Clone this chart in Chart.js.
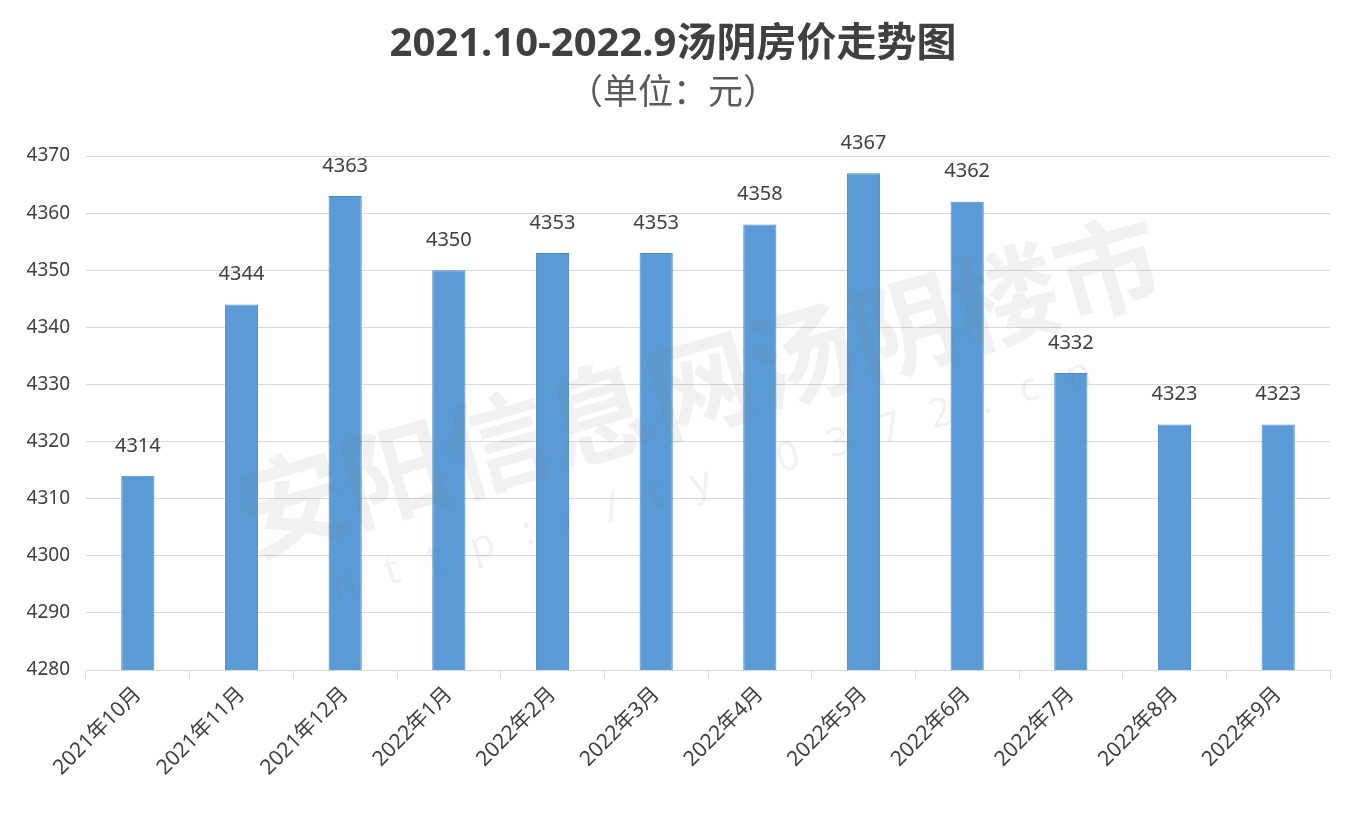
<!DOCTYPE html>
<html>
<head>
<meta charset="utf-8">
<script src="https://cdn.jsdelivr.net/npm/chart.js@4.4.0/dist/chart.umd.min.js"></script>
<style>
  html, body { margin: 0; padding: 0; background: #fff; }
  #wrap { width: 1360px; height: 818px; }
</style>
</head>
<body>
<div id="wrap"><canvas id="barChart"></canvas></div>
<script>
const months = ['2021年10月', '2021年11月', '2021年12月', '2022年1月', '2022年2月', '2022年3月',
                '2022年4月', '2022年5月', '2022年6月', '2022年7月', '2022年8月', '2022年9月'];
const prices = [4314, 4344, 4363, 4350, 4353, 4353, 4358, 4367, 4362, 4332, 4323, 4323];
const yMin = 4280;
const yMax = 4370;
const yStep = 10;

const FONT = '"Noto Sans", "Noto Sans CJK SC", sans-serif';

// value labels above each bar
const barLabels = {
    id: 'barLabels',
    afterDatasetsDraw(chart) {
        const ctx = chart.ctx;
        const meta = chart.getDatasetMeta(0);
        ctx.save();
        ctx.font = '20px ' + FONT;
        ctx.fillStyle = '#404040';
        ctx.textAlign = 'center';
        ctx.textBaseline = 'middle';
        meta.data.forEach((bar, i) => {
            ctx.fillText(prices[i], bar.x, bar.y - 30);
        });
        ctx.restore();
    }
};

// faint watermark of the source site
const watermark = {
    id: 'watermark',
    afterDraw(chart) {
        const ctx = chart.ctx;
        ctx.save();
        ctx.translate(700, 385);
        ctx.rotate(-16 * Math.PI / 180);
        ctx.fillStyle = 'rgba(120,120,120,0.10)';
        ctx.textAlign = 'center';
        ctx.textBaseline = 'middle';
        ctx.font = 'bold 106px "Noto Sans CJK SC"';
        ctx.fillText('安阳信息网汤阴楼市', 0, 0);
        ctx.font = '40px ' + FONT;
        ctx.letterSpacing = '30px';
        ctx.fillText('http://ty.0372.cn', 0, 95);
        ctx.restore();
    }
};

const ctx1 = document.getElementById('barChart').getContext('2d');
new Chart(ctx1, {
    type: 'bar',
    data: {
        labels: months,
        datasets: [{
            label: '房价',
            data: prices,
            backgroundColor: '#5b9bd5',
            borderColor: '#4a89c4',
            borderWidth: 1,
            barPercentage: 0.32,
            categoryPercentage: 1
        }]
    },
    options: {
        responsive: true,
        maintainAspectRatio: false,
        animation: false,
        layout: { padding: { left: 16, right: 30, top: 0, bottom: 0 } },
        plugins: {
            legend: { display: false },
            tooltip: { enabled: false },
            title: {
                display: true,
                text: '2021.10-2022.9汤阴房价走势图',
                color: '#404040',
                font: { family: FONT, size: 40, weight: 'bold' },
                padding: { top: 21, bottom: 4 }
            },
            subtitle: {
                display: true,
                text: '（单位：元）',
                color: '#595959',
                font: { family: FONT, size: 35 },
                padding: { top: 0, bottom: 41 }
            }
        },
        scales: {
            x: {
                grid: {
                    offset: true,
                    drawOnChartArea: false,
                    drawTicks: true,
                    tickLength: 8,
                    color: '#d9d9d9'
                },
                border: { color: '#d9d9d9' },
                ticks: {
                    color: '#404040',
                    font: { family: FONT, size: 21 },
                    minRotation: 45,
                    maxRotation: 45,
                    autoSkip: false,
                    padding: 4
                },
                afterFit(scale) { scale.height = 148; }
            },
            y: {
                min: yMin,
                max: yMax,
                grid: { color: '#d9d9d9', drawTicks: false },
                border: { display: false },
                ticks: {
                    stepSize: yStep,
                    color: '#404040',
                    font: { family: FONT, size: 19 },
                    padding: 16,
                    callback: (v) => String(v)
                },
                afterFit(scale) { scale.width = 70; }
            }
        }
    },
    plugins: [barLabels, watermark]
});
</script>
</body>
</html>
